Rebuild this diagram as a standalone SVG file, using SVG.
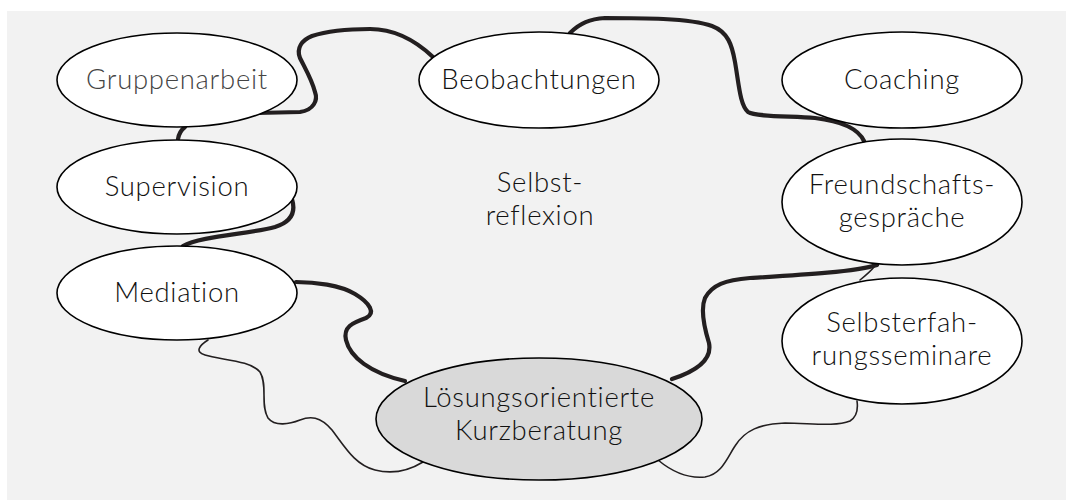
<svg xmlns="http://www.w3.org/2000/svg" width="1066" height="500" viewBox="0 0 1066 500">
  <style>
    .bg { fill: #f2f2f2; }
    .node { fill: #ffffff; stroke: #000000; stroke-width: 1.6; }
    .node-core { fill: #d9d9d9; stroke: #000000; stroke-width: 1.6; }
    .label { font-family: Lato, "Open Sans", "Liberation Sans", sans-serif; font-size: 27.5px; font-weight: 300; letter-spacing: 0.7px; fill: #111111; text-anchor: middle; }
    .label-muted { fill: #444444; }
    .link-strong { fill: none; stroke: #231f20; stroke-width: 4.2; stroke-linecap: round; stroke-linejoin: round; }
    .link-weak { fill: none; stroke: #231f20; stroke-width: 1.6; stroke-linecap: round; }
  </style>

  <rect class="bg" x="7" y="11" width="1059" height="489"/>

  <g id="connectors">
    <!-- Gruppenarbeit -> Beobachtungen -->
    <path class="link-strong" d="M257,113 L300,112 C314,110 318,100 315,92 C312,80 306,70 300,58 C296,48 302,40 312,36 C330,30 350,29 370,29 C395,29 415,40 433,57"/>
    <!-- Beobachtungen -> Freundschaftsgespraeche -->
    <path class="link-strong" d="M570,33 C580,23 590,19 605,18 C640,18 690,18 712,26 C728,32 732,45 735,62 C739,85 740,105 748,112 C756,117 790,116 815,118 C840,121 858,128 864,141"/>
    <!-- Gruppenarbeit -> Supervision -->
    <path class="link-strong" d="M178,139 C179,133 181,130 185,127"/>
    <!-- Supervision -> Mediation -->
    <path class="link-strong" d="M292,199 C296,212 291,222 275,227 C250,234 200,236 183,246"/>
    <!-- Mediation -> Loesungsorientierte Kurzberatung -->
    <path class="link-strong" d="M296,282 C315,282 340,285 355,294 C370,303 376,313 366,318 C352,323 343,327 346,340 C350,357 370,373 405,381"/>
    <!-- Freundschaftsgespraeche -> Loesungsorientierte Kurzberatung -->
    <path class="link-strong" d="M877,265 C855,272 800,275 750,278 C725,280 712,285 705,298 C700,310 705,330 709,343 C712,358 700,370 672,379"/>
    <!-- Freundschaftsgespraeche -> Selbsterfahrungsseminare -->
    <path class="link-weak" d="M874,267 C870,272 865,276 860,280"/>
    <!-- Mediation -> Loesungsorientierte Kurzberatung (lower) -->
    <path class="link-weak" d="M208,340 C200,345 194,352 205,355 C220,360 250,360 260,372 C268,385 260,405 268,418 C275,427 290,424 300,420 C310,416 320,416 332,430 C345,447 355,465 375,470 C395,475 410,470 423,462"/>
    <!-- Loesungsorientierte Kurzberatung -> Selbsterfahrungsseminare (lower) -->
    <path class="link-weak" d="M658,460 C670,470 685,479 705,477 C722,474 727,458 735,446 C745,430 760,424 785,423 C810,423 835,427 850,421 C858,416 858,408 857,401"/>
  </g>

  <g id="node-gruppenarbeit">
    <ellipse class="node" cx="177" cy="80" rx="120" ry="47"/>
    <text class="label label-muted" x="177" y="89">Gruppenarbeit</text>
  </g>
  <g id="node-beobachtungen">
    <ellipse class="node" cx="539" cy="80" rx="120" ry="48"/>
    <text class="label" x="539" y="89">Beobachtungen</text>
  </g>
  <g id="node-coaching">
    <ellipse class="node" cx="902" cy="80" rx="120" ry="48"/>
    <text class="label" x="902" y="89">Coaching</text>
  </g>
  <g id="node-supervision">
    <ellipse class="node" cx="177" cy="187" rx="120" ry="47"/>
    <text class="label" x="177" y="196">Supervision</text>
  </g>
  <g id="node-selbstreflexion">
    <text class="label" x="540" y="192">Selbst-</text>
    <text class="label" x="540" y="225">reflexion</text>
  </g>
  <g id="node-freundschaftsgespraeche">
    <ellipse class="node" cx="902" cy="202" rx="120" ry="63"/>
    <text class="label" x="902" y="194">Freundschafts-</text>
    <text class="label" x="902" y="227">gespräche</text>
  </g>
  <g id="node-mediation">
    <ellipse class="node" cx="177" cy="293" rx="120" ry="47"/>
    <text class="label" x="177" y="302">Mediation</text>
  </g>
  <g id="node-selbsterfahrungsseminare">
    <ellipse class="node" cx="902" cy="341" rx="120" ry="63"/>
    <text class="label" x="902" y="332">Selbsterfah-</text>
    <text class="label" x="902" y="365">rungsseminare</text>
  </g>
  <g id="node-kurzberatung">
    <ellipse class="node-core" cx="539" cy="419" rx="163" ry="61"/>
    <text class="label" x="539" y="407">Lösungsorientierte</text>
    <text class="label" x="539" y="440">Kurzberatung</text>
  </g>
</svg>
